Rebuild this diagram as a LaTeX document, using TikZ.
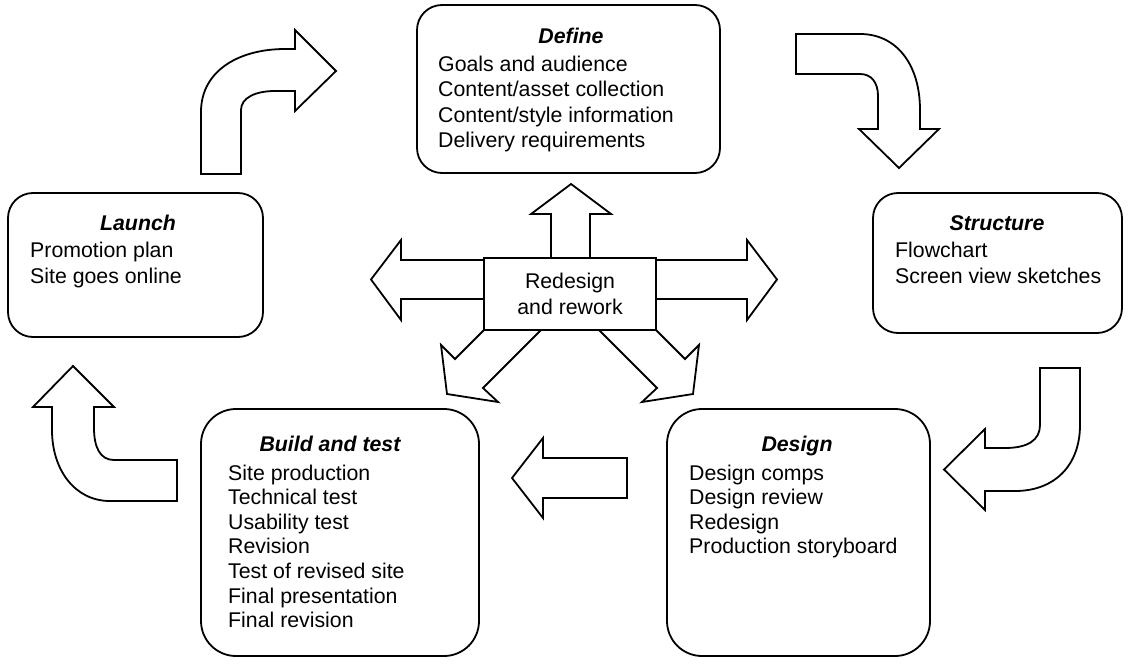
\documentclass[tikz,border=0pt]{standalone}
\usepackage{fontspec}
\setmainfont{Liberation Sans}
\begin{document}
\begin{tikzpicture}[x=1pt,y=-1pt,
  every node/.style={font=\fontsize{21.3}{25}\selectfont},
  box/.style={draw, line width=1.8pt, rounded corners=#1, inner sep=0pt},
  box/.default=25pt,
  ttl/.style={font=\fontsize{21.3}{25}\selectfont\bfseries\itshape, inner sep=0pt, anchor=base},
  txt/.style={inner sep=0pt, anchor=base west},
  blk/.style={draw, line width=1.8pt, fill=white, line join=miter}]
\useasboundingbox (0,0) rectangle (1129,666);

% boxes
\node[box] (define) at (568.5,89) [minimum width=303pt, minimum height=168pt] {};
\node[box] (launch) at (135.5,265) [minimum width=255pt, minimum height=144pt] {};
\node[box] (structure) at (997.5,263) [minimum width=249pt, minimum height=140pt] {};
\node[box=35pt] (design) at (798.5,532.5) [minimum width=263pt, minimum height=247pt] {};
\node[box=35pt] (build) at (340,532.5) [minimum width=278pt, minimum height=247pt] {};
\node[draw, line width=1.8pt, minimum width=172pt, minimum height=72pt, align=center, inner sep=0pt,
  font=\fontsize{21.3}{26}\selectfont] (rework) at (570,294) {Redesign\\and rework};

% titles
\node[ttl] (defineT) at (571,44) {Define};
\node[ttl] (launchT) at (138,230) {Launch};
\node[ttl] (structureT) at (997,230) {Structure};
\node[ttl] (designT) at (797,451) {Design};
\node[ttl] (buildT) at (330,451) {Build and test};

% item lines
\foreach \t [count=\i] in {Goals and audience, Content/asset collection, Content/style information, Delivery requirements}
  \node[txt] (defineL\i) at (438,{72+25*(\i-1)}) {\t};
\foreach \t [count=\i] in {Promotion plan, Site goes online}
  \node[txt] (launchL\i) at (30,{257+26*(\i-1)}) {\t};
\foreach \t [count=\i] in {Flowchart, Screen view sketches}
  \node[txt] (structureL\i) at (895,{257+26*(\i-1)}) {\t};
\foreach \t [count=\i] in {Design comps, Design review, Redesign, Production storyboard}
  \node[txt] (designL\i) at (689,{480+24.6*(\i-1)}) {\t};
\foreach \t [count=\i] in {Site production, Technical test, Usability test, Revision, Test of revised site, Final presentation, Final revision}
  \node[txt] (buildL\i) at (228,{480+24.6*(\i-1)}) {\t};

% arrows out of the Redesign and rework box
\draw[blk, fill=none] (551,258) -- (551,214) -- (531,214) -- (571,184) -- (611,214) -- (590,214) -- (590,258);
\draw[blk, fill=none] (484,260) -- (401,260) -- (401,240) -- (371,279.5) -- (401,320) -- (401,299) -- (484,299);
\draw[blk, fill=none] (656,260) -- (747,260) -- (747,240) -- (777,279.5) -- (747,320) -- (747,299) -- (656,299);
\draw[blk, fill=none] (484,330) -- (455,359) -- (441,345) -- (447,394) -- (498,402) -- (483,388) -- (541,330);
\draw[blk, fill=none] (656,330) -- (685,359) -- (699,345) -- (693,394) -- (642,402) -- (657,388) -- (599,330);

% cycle arrows
% Launch -> Define
\draw[blk] (201,174) -- (201,112) .. controls (201,70) and (240,49) .. (285,49) -- (295,49) -- (295,30)
  -- (336,71) -- (295,111) -- (295,91) -- (275,91) .. controls (255,91) and (241,98) .. (241,110) -- (241,174) -- cycle;
% Define -> Structure
\draw[blk] (796,34) -- (860,34) .. controls (897,34) and (920,65) .. (920,110) -- (920,129) -- (939,129)
  -- (899,168) -- (859,129) -- (878,129) -- (878,96) .. controls (878,82) and (871,74) .. (860,74) -- (796,74) -- cycle;
% Structure -> Design
\draw[blk] (1040,368) -- (1080,368) -- (1080,425) .. controls (1080,465) and (1055,491) .. (1015,491) -- (985,491)
  -- (985,510) -- (944,469.5) -- (985,429) -- (985,448) -- (1005,448) .. controls (1028,448) and (1040,440) .. (1040,425) -- cycle;
% Design -> Build and test
\draw[blk] (627,458) -- (543,458) -- (543,438) -- (512,478) -- (543,518) -- (543,498) -- (627,498) -- cycle;
% Build and test -> Launch
\draw[blk] (73,366) -- (114,407) -- (94,407) -- (94,428) .. controls (94,447) and (100,460) .. (114,460) -- (177,460)
  -- (177,501) -- (110,501) .. controls (75,501) and (52,470) .. (52,430) -- (52,407) -- (33,407) -- cycle;
\end{tikzpicture}
\end{document}
